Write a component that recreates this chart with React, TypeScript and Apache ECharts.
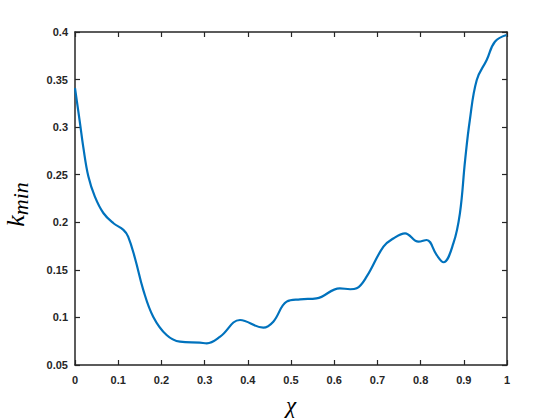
import React, { useEffect, useRef } from "react";
import * as echarts from "echarts";

const xValues = [0, 0.0116, 0.019, 0.031, 0.046, 0.066, 0.089, 0.112, 0.123, 0.139, 0.158, 0.181, 0.212, 0.243, 0.289, 0.305, 0.336, 0.382, 0.436, 0.459, 0.49, 0.521, 0.559, 0.613, 0.637, 0.652, 0.675, 0.714, 0.737, 0.764, 0.795, 0.814, 0.837, 0.853, 0.876, 0.891, 0.903, 0.914, 0.93, 0.953, 0.972, 0.999];
const kMin = [0.341, 0.304, 0.2795, 0.248, 0.227, 0.2095, 0.199, 0.192, 0.185, 0.162, 0.129, 0.1008, 0.0815, 0.0745, 0.0735, 0.0728, 0.0798, 0.0973, 0.0892, 0.0955, 0.1166, 0.119, 0.12, 0.1306, 0.1296, 0.1306, 0.1428, 0.1744, 0.183, 0.1884, 0.1796, 0.1814, 0.1657, 0.158, 0.178, 0.2094, 0.265, 0.3075, 0.3496, 0.3706, 0.3898, 0.3968];

const axisColor = "#262626";

export default function App() {
  const ref = useRef<HTMLDivElement>(null);
  useEffect(() => {
    if (!ref.current) return;
    const chart = echarts.init(ref.current, null, { renderer: "svg" });
    const labelStyle = { color: axisColor, fontWeight: "bold" as const, fontSize: 11, fontFamily: "Liberation Sans, Arial, sans-serif" };
    const baseX = {
      type: "value" as const,
      min: 0, max: 1, interval: 0.1,
      splitLine: { show: false },
      axisLine: { show: true, onZero: false, lineStyle: { color: axisColor, width: 1.5 } },
      axisTick: { show: true, inside: true, length: 5, lineStyle: { color: axisColor, width: 1.2 } },
    };
    const baseY = {
      type: "value" as const,
      min: 0.05, max: 0.4, interval: 0.05,
      splitLine: { show: false },
      axisLine: { show: true, onZero: false, lineStyle: { color: axisColor, width: 1.5 } },
      axisTick: { show: true, inside: true, length: 5, lineStyle: { color: axisColor, width: 1.2 } },
    };
    chart.setOption({
      animation: false,
      backgroundColor: "#ffffff",
      grid: { left: 75, right: 53, top: 32, bottom: 55, containLabel: false, outerBoundsMode: "none" },
      xAxis: [
        {
          ...baseX,
          position: "bottom",
          axisLabel: { ...labelStyle, margin: 9, formatter: (v: number) => String(Math.round(v * 10) / 10) },
          name: "χ",
          nameLocation: "middle",
          nameGap: 29,
          nameTextStyle: { fontFamily: "Liberation Serif, serif", fontStyle: "italic", fontSize: 23, color: "#000" },
        },
        { ...baseX, position: "top", axisLabel: { show: false } },
      ],
      yAxis: [
        {
          ...baseY,
          position: "left",
          axisLabel: { ...labelStyle, margin: 7, formatter: (v: number) => String(Math.round(v * 100) / 100) },
          name: "{k|k}{s|min}",
          nameLocation: "middle",
          nameGap: 44,
          nameRotate: 90,
          nameTextStyle: {
            rich: {
              k: { fontFamily: "Liberation Serif, serif", fontStyle: "italic", fontSize: 26, color: "#000" },
              s: { fontFamily: "Liberation Serif, serif", fontStyle: "italic", fontSize: 22, color: "#000", padding: [10, 12, 0, 0] },
            },
          },
        },
        { ...baseY, position: "right", axisLabel: { show: false } },
      ],
      series: [
        {
          type: "line",
          xAxisIndex: 0,
          yAxisIndex: 0,
          data: xValues.map((x, i) => [x, kMin[i]]),
          smooth: 0.4,
          showSymbol: false,
          lineStyle: { color: "#0072BD", width: 2.2 },
        },
      ],
    });
    return () => chart.dispose();
  }, []);
  return <div ref={ref} style={{ width: 560, height: 420, position: "absolute", left: 0, top: 0 }} />;
}
